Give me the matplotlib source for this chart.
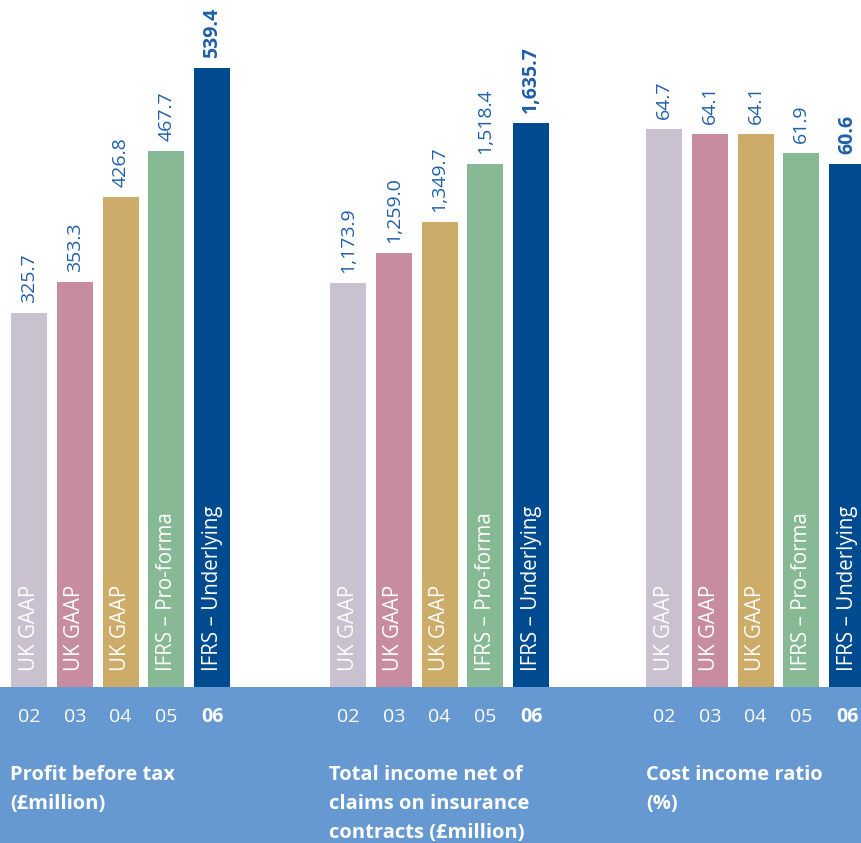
import matplotlib
matplotlib.use("Agg")
import matplotlib.pyplot as plt

plt.rcParams['font.family'] = ['Open Sans', 'DejaVu Sans']

years = ["02", "03", "04", "05", "06"]
bases = ["UK GAAP", "UK GAAP", "UK GAAP", "IFRS – Pro-forma", "IFRS – Underlying"]
profit = [325.7, 353.3, 426.8, 467.7, 539.4]
income = [1173.9, 1259.0, 1349.7, 1518.4, 1635.7]
ratio = [64.7, 64.1, 64.1, 61.9, 60.6]
profit_labels = ["325.7", "353.3", "426.8", "467.7", "539.4"]
income_labels = ["1,173.9", "1,259.0", "1,349.7", "1,518.4", "1,635.7"]
ratio_labels = ["64.7", "64.1", "64.1", "61.9", "60.6"]
titles = ["Profit before tax\n(£million)",
          "Total income net of\nclaims on insurance\ncontracts (£million)",
          "Cost income ratio\n(%)"]

colors = ["#c9c1cf", "#c88ca1", "#cdab68", "#88b995", "#004a90"]
band_color = "#6699d1"
label_color = "#1f5fa8"

W, H = 861, 843
fig = plt.figure(figsize=(W / 100, H / 100), dpi=100)
fig.patch.set_facecolor("white")

band_top = 687  # image px
fig.patches.append(plt.Rectangle((0, 0), 1, (H - band_top) / H, transform=fig.transFigure,
                                 facecolor=band_color, edgecolor="none", zorder=0))

slot = 45.75
lefts = [6.15, 325.15, 641.15]
ytops = [599, 1994, 79.6]
panels = [(profit, profit_labels), (income, income_labels), (ratio, ratio_labels)]

for p, ((vals, labs), L, ytop, title) in enumerate(zip(panels, lefts, ytops, titles)):
    ax = fig.add_axes([L / W, (H - band_top) / H, 5 * slot / W, band_top / H])
    ax.set_xlim(-0.5, 4.5)
    ax.set_ylim(0, ytop)
    ax.axis("off")
    ax.patch.set_alpha(0)
    xs = list(range(len(vals)))
    ax.bar(xs, vals, width=0.787, color=colors, zorder=2)
    for i, (v, lab, base) in enumerate(zip(vals, labs, bases)):
        ax.annotate(lab, (i, v), xytext=(0, 10), textcoords="offset pixels",
                    rotation=90, ha="center", va="bottom", color=label_color,
                    fontsize=14, fontweight="bold" if i == 4 else "normal",
                    annotation_clip=False)
        ax.annotate(base, (i, 0), xytext=(0, 16), textcoords="offset pixels",
                    rotation=90, ha="center", va="bottom", color="white",
                    fontsize=14.8, annotation_clip=False, zorder=3)
        cx = L + (i + 0.5) * slot
        fig.text(cx / W, 1 - 717 / H, years[i], ha="center", va="center",
                 color="white", fontsize=14,
                 fontweight="bold" if i == 4 else "normal")
    tx = [10, 329, 646][p]
    fig.text(tx / W, 1 - 765 / H, title, ha="left", va="top", color="white",
             fontsize=14.5, fontweight="bold", linespacing=1.6)

fig.savefig("out.png", dpi=100)
